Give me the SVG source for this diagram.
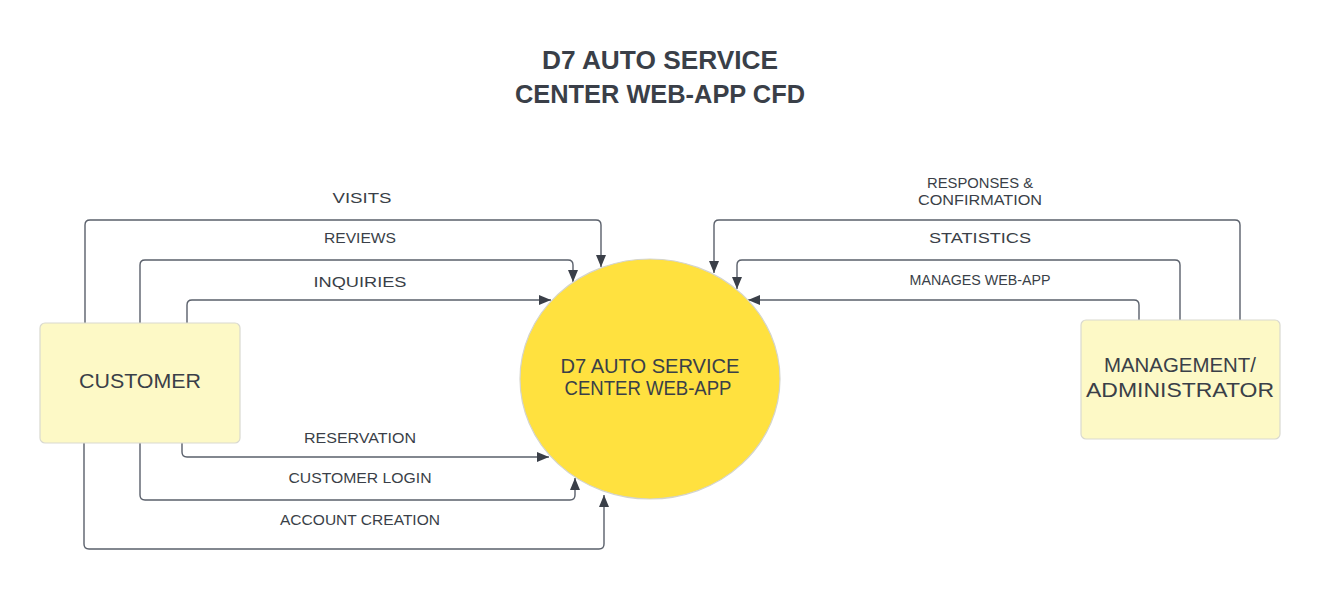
<svg xmlns="http://www.w3.org/2000/svg" width="1320" height="603" viewBox="0 0 1320 603">
<style>
.bg{fill:#ffffff}
.title{font-family:"Liberation Sans",Arial,sans-serif;font-weight:bold;font-size:26px;fill:#3a3f48;text-anchor:middle}
.lbl{font-family:"Liberation Sans",Arial,sans-serif;font-size:14px;fill:#3a3f48;text-anchor:middle}
.ntxt{font-family:"Liberation Sans",Arial,sans-serif;font-size:21px;fill:#3a3f48;text-anchor:middle}
.box{fill:#fdf9c6;stroke:#d9d9d0;stroke-width:1.2}
.proc{fill:#ffe13f;stroke:#d4d4cc;stroke-width:1.2}
.conn{fill:none;stroke:#5a606b;stroke-width:1.4;marker-end:url(#arr)}
</style>
<defs>
<marker id="arr" markerUnits="userSpaceOnUse" markerWidth="13" markerHeight="11" refX="12" refY="5" orient="auto">
<path d="M0,0 L12,5 L0,10 z" fill="#3a3f48"/>
</marker>
</defs>
<rect class="bg" x="0" y="0" width="1320" height="603"/>
<g id="title">
<text class="title" x="660" y="69" textLength="236" lengthAdjust="spacingAndGlyphs">D7 AUTO SERVICE</text>
<text class="title" x="660" y="103" textLength="290" lengthAdjust="spacingAndGlyphs">CENTER WEB-APP CFD</text>
</g>
<g id="connectors">
<path class="conn" d="M85,323 V225 Q85,220 90,220 H596 Q601,220 601,225 V267"/>
<path class="conn" d="M140,323 V265 Q140,260 145,260 H568 Q573,260 573,265 V282"/>
<path class="conn" d="M187,323 V305 Q187,300 192,300 H551"/>
<path class="conn" d="M182,443 V452 Q182,457 187,457 H549"/>
<path class="conn" d="M140,443 V495 Q140,500 145,500 H570 Q575,500 575,495 V478"/>
<path class="conn" d="M84,443 V544 Q84,549 89,549 H599 Q604,549 604,544 V495"/>
<path class="conn" d="M1240,320 V225 Q1240,220 1235,220 H719 Q714,220 714,225 V273"/>
<path class="conn" d="M1180,320 V265 Q1180,260 1175,260 H742 Q737,260 737,265 V289"/>
<path class="conn" d="M1139,320 V305 Q1139,300 1134,300 H748"/>
<text class="lbl" x="362" y="203" textLength="59" lengthAdjust="spacingAndGlyphs">VISITS</text>
<text class="lbl" x="360" y="243" textLength="72" lengthAdjust="spacingAndGlyphs">REVIEWS</text>
<text class="lbl" x="360" y="287" textLength="93" lengthAdjust="spacingAndGlyphs">INQUIRIES</text>
<text class="lbl" x="360" y="443" textLength="112" lengthAdjust="spacingAndGlyphs">RESERVATION</text>
<text class="lbl" x="360" y="483" textLength="143" lengthAdjust="spacingAndGlyphs">CUSTOMER LOGIN</text>
<text class="lbl" x="360" y="525" textLength="160" lengthAdjust="spacingAndGlyphs">ACCOUNT CREATION</text>
<text class="lbl" x="980" y="188" textLength="106" lengthAdjust="spacingAndGlyphs">RESPONSES &amp;</text>
<text class="lbl" x="980" y="205" textLength="124" lengthAdjust="spacingAndGlyphs">CONFIRMATION</text>
<text class="lbl" x="980" y="243" textLength="102" lengthAdjust="spacingAndGlyphs">STATISTICS</text>
<text class="lbl" x="980" y="285" textLength="141" lengthAdjust="spacingAndGlyphs">MANAGES WEB-APP</text>
</g>
<g id="customer">
<rect class="box" x="40" y="323" width="200" height="120" rx="5"/>
<text class="ntxt" x="140" y="388" font-size="22" textLength="122" lengthAdjust="spacingAndGlyphs">CUSTOMER</text>
</g>
<g id="webapp">
<ellipse class="proc" cx="650" cy="379" rx="130" ry="120"/>
<text class="ntxt" x="650" y="373" font-size="18" textLength="179" lengthAdjust="spacingAndGlyphs">D7 AUTO SERVICE</text>
<text class="ntxt" x="648" y="395" font-size="18" textLength="167" lengthAdjust="spacingAndGlyphs">CENTER WEB-APP</text>
</g>
<g id="management">
<rect class="box" x="1081" y="320" width="199" height="119" rx="5"/>
<text class="ntxt" x="1180" y="372" textLength="152" lengthAdjust="spacingAndGlyphs">MANAGEMENT/</text>
<text class="ntxt" x="1180" y="397" textLength="188" lengthAdjust="spacingAndGlyphs">ADMINISTRATOR</text>
</g>
</svg>
